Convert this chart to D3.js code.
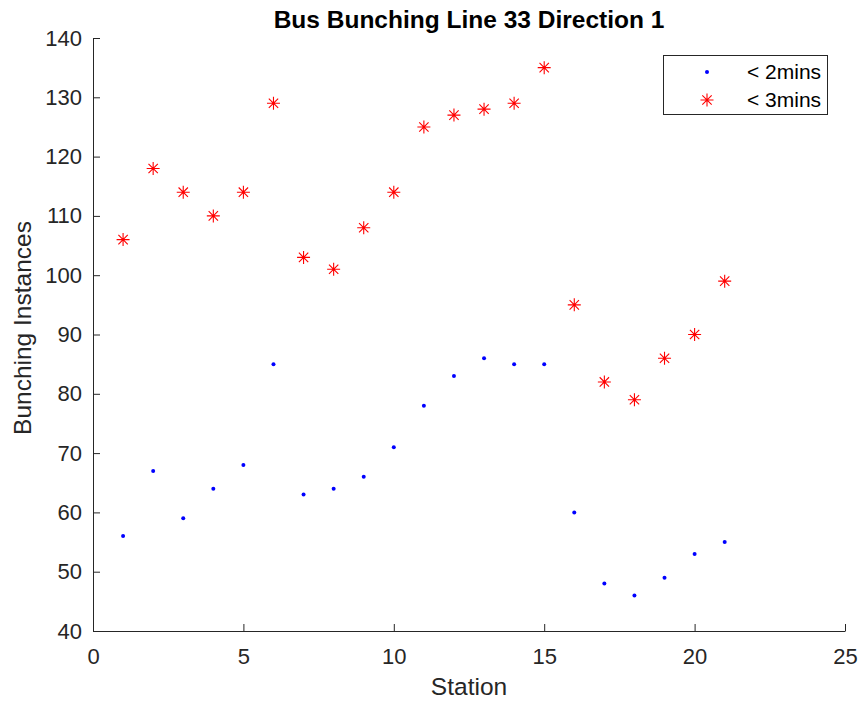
<!DOCTYPE html>
<html><head><meta charset="utf-8">
<script src="https://cdn.jsdelivr.net/npm/d3@7"></script>
<style>body{margin:0;background:#fff;} svg{display:block;font-family:"Liberation Sans",Arial,sans-serif;}</style>
</head><body>
<script>
const stations = [1,2,3,4,5,6,7,8,9,10,11,12,13,14,15,16,17,18,19,20,21];
const under2 = [56,67,59,64,68,85,63,64,66,71,78,83,86,85,85,60,48,46,49,53,55];
const under3 = [106,118,114,110,114,129,103,101,108,114,125,127,128,129,135,95,82,79,86,90,99];
const xTicks = [0,5,10,15,20,25];
const yTicks = [40,50,60,70,80,90,100,110,120,130,140];
const seriesNames = ["< 2mins","< 3mins"];

const W=862,H=702;
const m={l:93,r:17,t:38,b:71};
const svg=d3.select("body").append("svg").attr("width",W).attr("height",H);
const x=d3.scaleLinear().domain([0,25]).range([m.l,W-m.r]);
const y=d3.scaleLinear().domain([40,140]).range([H-m.b,m.t]);
const axCol="#262626";

const gx=svg.append("g").attr("transform",`translate(0,${y(40)})`)
  .call(d3.axisBottom(x).tickValues(xTicks).tickSizeInner(-7).tickSizeOuter(0).tickPadding(17));
const gy=svg.append("g").attr("transform",`translate(${x(0)},0)`)
  .call(d3.axisLeft(y).tickValues(yTicks).tickSizeInner(-7).tickSizeOuter(0).tickPadding(11));
[gx,gy].forEach(g=>{
  g.selectAll("path").attr("stroke",axCol).attr("stroke-width",1);
  g.selectAll("line").attr("stroke",axCol).attr("stroke-width",1);
  g.selectAll("text").attr("fill",axCol).style("font-size","22px").style("font-family","'Liberation Sans',Arial,sans-serif");
});

svg.append("text").attr("x",(x(0)+x(25))/2).attr("y",28).attr("text-anchor","middle")
  .style("font-weight","bold").style("font-size","24.5px").attr("fill","#000").text("Bus Bunching Line 33 Direction 1");
svg.append("text").attr("x",469).attr("y",695).attr("text-anchor","middle")
  .style("font-size","24.5px").attr("fill",axCol).text("Station");
svg.append("text").attr("transform",`translate(31,328) rotate(-90)`).attr("text-anchor","middle")
  .style("font-size","24.5px").attr("fill",axCol).text("Bunching Instances");

function star(g,cx,cy,r){
  const d=`M${cx-r},${cy}L${cx+r},${cy}M${cx},${cy-r}L${cx},${cy+r}`+
    `M${cx-r*0.72},${cy-r*0.72}L${cx+r*0.72},${cy+r*0.72}M${cx-r*0.72},${cy+r*0.72}L${cx+r*0.72},${cy-r*0.72}`;
  g.append("path").attr("d",d).attr("stroke","#ff0000").attr("stroke-width",1.1).attr("fill","none");
}

const pts=svg.append("g");
pts.selectAll("circle").data(stations).join("circle")
  .attr("cx",d=>x(d)).attr("cy",(d,i)=>y(under2[i])).attr("r",2).attr("fill","#0000ff");
const sg=svg.append("g");
stations.forEach((d,i)=>star(sg,x(d),y(under3[i]),6.5));

// legend
const lg=svg.append("g");
lg.append("rect").attr("x",663.5).attr("y",55.5).attr("width",164).attr("height",59)
  .attr("fill","#fff").attr("stroke",axCol).attr("stroke-width",1);
lg.append("circle").attr("cx",707).attr("cy",72).attr("r",2).attr("fill","#0000ff");
star(lg,707,100,6.5);
lg.append("text").attr("x",747).attr("y",79).style("font-size","21px").attr("fill","#000").text(seriesNames[0]);
lg.append("text").attr("x",747).attr("y",107).style("font-size","21px").attr("fill","#000").text(seriesNames[1]);
</script>
</body></html>
